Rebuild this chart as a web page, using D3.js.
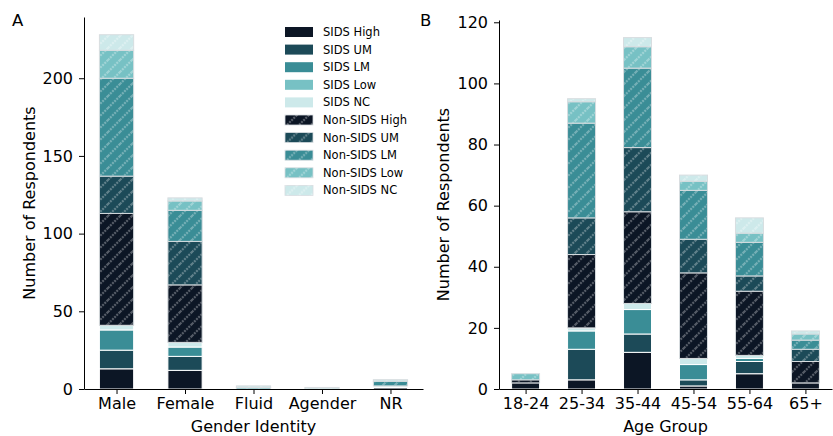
<!DOCTYPE html>
<html>
<head>
<meta charset="utf-8">
<script src="https://cdn.jsdelivr.net/npm/d3@7"></script>
<style>
  body { margin: 0; background: #fff; }
  text { font-family: "DejaVu Sans", sans-serif; fill: #000; }
  .axis path, .axis line { stroke: #000; stroke-width: 1; }
</style>
</head>
<body>
<div id="chart"></div>
<script>
// series, bottom to top of the stack
var seriesNames = ['SIDS High', 'SIDS UM', 'SIDS LM', 'SIDS Low', 'SIDS NC',
  'Non-SIDS High', 'Non-SIDS UM', 'Non-SIDS LM', 'Non-SIDS Low', 'Non-SIDS NC'];
var seriesColors = ['#0c1625', '#1c4a58', '#3a8d96', '#77c1c4', '#cde9ea',
  '#0c1625', '#1c4a58', '#3a8d96', '#77c1c4', '#cde9ea'];

// panel A
var genderCats = ['Male', 'Female', 'Fluid', 'Agender', 'NR'];
var genderValues = [
  [13, 12, 0, 0, 1],
  [12, 9, 0, 0, 0],
  [13, 6, 0, 0, 0],
  [0, 0, 0, 0, 0],
  [3, 3, 0, 0, 1],
  [72, 37, 0, 0, 0],
  [24, 28, 0, 0, 0],
  [63, 20, 0, 0, 3],
  [18, 6, 1, 0, 0],
  [10, 2, 1, 1, 1]
];
var genderTicks = [0, 50, 100, 150, 200];

// panel B
var ageCats = ['18-24', '25-34', '35-44', '45-54', '55-64', '65+'];
var ageValues = [
  [2, 3, 12, 1, 5, 2],
  [0, 10, 6, 2, 4, 0],
  [0, 6, 8, 5, 1, 0],
  [0, 0, 0, 0, 0, 0],
  [0, 1, 2, 2, 1, 0],
  [1, 24, 30, 28, 21, 7],
  [0, 12, 21, 11, 5, 4],
  [0, 31, 26, 16, 11, 3],
  [2, 7, 7, 3, 3, 2],
  [0, 1, 3, 2, 5, 1]
];
var ageTicks = [0, 20, 40, 60, 80, 100, 120];

var svg = d3.select('#chart').append('svg')
  .attr('width', 833)
  .attr('height', 436);

// hatch overlay for the Non-SIDS groups
var defs = svg.append('defs');
var pat = defs.append('pattern')
  .attr('id', 'hatch')
  .attr('patternUnits', 'userSpaceOnUse')
  .attr('width', 12)
  .attr('height', 12);
pat.append('path')
  .attr('d', 'M-3,3 L3,-3 M0,12 L12,0 M9,15 L15,9')
  .attr('stroke', '#ffffff')
  .attr('stroke-opacity', 0.3)
  .attr('stroke-width', 2.2)
  .attr('stroke-dasharray', '2,1');

function isHatched(i) { return i >= 5; }

function drawPanel(opts) {
  var m = opts.margin;
  var g = svg.append('g');
  var n = opts.cats.length;

  var x = d3.scaleLinear()
    .domain([-0.475, n - 0.525])
    .range([m.left, m.right]);

  var totals = opts.cats.map(function (c, j) {
    return d3.sum(opts.values, function (s) { return s[j]; });
  });
  var y = d3.scaleLinear()
    .domain([0, d3.max(totals) * 1.05])
    .range([m.bottom, m.top]);

  var rows = opts.cats.map(function (c, j) {
    var r = { cat: c };
    seriesNames.forEach(function (s, i) { r[s] = opts.values[i][j]; });
    return r;
  });
  var stacked = d3.stack().keys(seriesNames)(rows);

  var bw = (x(1) - x(0)) * 0.5;

  stacked.forEach(function (layer, i) {
    var segs = layer.filter(function (d) { return d[1] > d[0]; });
    g.append('g').selectAll('rect')
      .data(segs)
      .enter()
      .append('rect')
      .attr('x', function (d) { return x(opts.cats.indexOf(d.data.cat)) - bw / 2; })
      .attr('y', function (d) { return y(d[1]); })
      .attr('width', bw)
      .attr('height', function (d) { return y(d[0]) - y(d[1]); })
      .attr('fill', seriesColors[i])
      .attr('stroke', isHatched(i) ? '#d8dde0' : '#ffffff')
      .attr('stroke-width', 1);
    if (isHatched(i)) {
      g.append('g').selectAll('rect')
        .data(segs)
        .enter()
        .append('rect')
        .attr('x', function (d) { return x(opts.cats.indexOf(d.data.cat)) - bw / 2 + 0.5; })
        .attr('y', function (d) { return y(d[1]) + 0.5; })
        .attr('width', bw - 1)
        .attr('height', function (d) { return Math.max(0, y(d[0]) - y(d[1]) - 1); })
        .attr('fill', 'url(#hatch)');
    }
  });

  // axes
  g.append('g')
    .attr('class', 'axis')
    .attr('transform', 'translate(0,' + m.bottom + ')')
    .call(d3.axisBottom(x)
      .tickValues(d3.range(n))
      .tickFormat(function (i) { return opts.cats[i]; })
      .tickSize(5)
      .tickSizeOuter(0)
      .tickPadding(4))
    .selectAll('text').attr('font-size', '16px');

  g.append('g')
    .attr('class', 'axis')
    .attr('transform', 'translate(' + m.left + ',0)')
    .call(d3.axisLeft(y)
      .tickValues(opts.ticks)
      .tickSize(5)
      .tickSizeOuter(0)
      .tickPadding(6))
    .selectAll('text').attr('font-size', '16px');

  g.append('text')
    .attr('x', (m.left + m.right) / 2)
    .attr('y', 432)
    .attr('text-anchor', 'middle')
    .style('font-size', '16px')
    .text(opts.xLabel);

  g.append('text')
    .attr('transform', 'translate(' + opts.yLabelX + ',' + (m.top + m.bottom) / 2 + ') rotate(-90)')
    .attr('text-anchor', 'middle')
    .style('font-size', '16px')
    .text('Number of Respondents');

  g.append('text')
    .attr('x', opts.letterX)
    .attr('y', 26)
    .style('font-size', '16.5px')
    .text(opts.letter);
}

drawPanel({
  cats: genderCats, values: genderValues, ticks: genderTicks,
  margin: { left: 84, right: 423, top: 17, bottom: 389 },
  xLabel: 'Gender Identity', yLabelX: 35, letter: 'A', letterX: 12
});

drawPanel({
  cats: ageCats, values: ageValues, ticks: ageTicks,
  margin: { left: 499, right: 832, top: 20, bottom: 389 },
  xLabel: 'Age Group', yLabelX: 449, letter: 'B', letterX: 420
});

// legend
var legend = svg.append('g').attr('transform', 'translate(285,27)');
var item = legend.selectAll('g')
  .data(seriesNames)
  .enter()
  .append('g')
  .attr('transform', function (d, i) { return 'translate(0,' + i * 17.6 + ')'; });
item.append('rect')
  .attr('width', 28).attr('height', 10)
  .attr('fill', function (d, i) { return seriesColors[i]; })
  .attr('stroke', function (d, i) { return isHatched(i) ? '#d8dde0' : 'none'; })
  .attr('stroke-width', 0.8);
item.filter(function (d, i) { return isHatched(i); })
  .append('rect')
  .attr('width', 28).attr('height', 10)
  .attr('fill', 'url(#hatch)');
item.append('text')
  .attr('x', 38)
  .attr('y', 9)
  .style('font-size', '11.5px')
  .text(function (d) { return d; });
</script>
</body>
</html>
